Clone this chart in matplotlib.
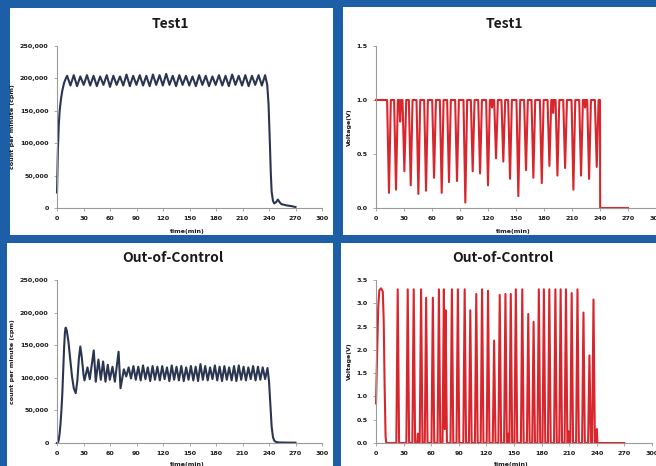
import matplotlib
matplotlib.use("Agg")
import matplotlib.pyplot as plt
from matplotlib.patches import Rectangle
from matplotlib.ticker import FuncFormatter

W, H = 656, 466

# ---- Test1: count per minute ----
t_cpm_test = [0, 1, 2, 3, 4.5, 6, 8, 10, 11.5,
              15.2, 19.0, 22.7, 26.4, 30.2, 33.9, 37.6, 41.4, 45.1, 48.8,
              52.6, 56.3, 60.0, 63.8, 67.5, 71.3, 75.0, 78.7, 82.5, 86.2,
              89.9, 93.7, 97.4, 101.1, 104.9, 108.6, 112.3, 116.1, 119.8, 123.6,
              127.3, 131.0, 134.8, 138.5, 142.2, 146.0, 149.7, 153.4, 157.2, 160.9,
              164.6, 168.4, 172.1, 175.9, 179.6, 183.3, 187.1, 190.8, 194.5, 198.3,
              202.0, 205.7, 209.5, 213.2, 216.9, 220.7, 224.4, 228.2, 231.9, 235.6,
              238.0, 239.5, 241, 242, 243, 244.5, 246, 248, 250, 252, 254, 257,
              260, 265, 270]
cpm_test = [24000, 90000, 128000, 150000, 168000, 181000, 193000, 200000, 204000,
            189000, 205000, 188000, 203000, 190000, 205000, 189000, 204000, 188000, 203000,
            190000, 205000, 187000, 204000, 190000, 203000, 189000, 206000, 188000, 204000,
            190000, 205000, 189000, 204000, 188000, 206000, 190000, 205000, 189000, 207000,
            190000, 204000, 188000, 205000, 190000, 204000, 189000, 203000, 188000, 205000,
            190000, 204000, 188000, 203000, 190000, 205000, 189000, 204000, 188000, 206000,
            190000, 204000, 189000, 205000, 188000, 204000, 190000, 205000, 189000, 205000,
            190000, 160000, 100000, 55000, 25000, 11000, 7000, 9000, 13000, 9000, 6000, 5000,
            4000, 3000, 1500]

# ---- Out-of-Control: count per minute ----
t_cpm_ooc = [0, 1, 2, 3, 4, 5, 6, 7, 8, 9, 9.8, 11, 13, 15, 17, 19, 21.2,
             23, 24.8, 26.4, 28, 30, 31.1, 34.5, 37.1, 41.6, 43.9, 46.9, 49.6,
             52.2, 54.9, 57.5, 59.8, 62.8, 65.5, 69.7, 71.9,
             75.7, 78.4, 81.1, 83.8, 86.5, 89.2, 92.0, 94.7, 97.4, 100.1,
             102.8, 105.5, 108.2, 110.9, 113.6, 116.4, 119.1, 121.8, 124.5, 127.2,
             129.9, 132.6, 135.3, 138.0, 140.7, 143.5, 146.2, 148.9, 151.6, 154.3,
             157.0, 159.7, 162.4, 165.1, 167.8, 170.6, 173.3, 176.0, 178.7, 181.4,
             184.1, 186.8, 189.5, 192.2, 194.9, 197.7, 200.4, 203.1, 205.8, 208.5,
             211.2, 213.9, 216.6, 219.3, 222.0, 224.8, 227.5, 230.2, 232.9, 235.6,
             238.3, 240, 241.5, 243, 244.5, 246, 248, 252, 260, 270]
cpm_ooc = [0, 0, 5000, 15000, 30000, 50000, 75000, 110000, 145000, 170000, 177000,
           173000, 155000, 128000, 102000, 84000, 76500,
           95000, 130000, 148000, 132000, 105000, 96000, 116000, 98000, 142000, 94000,
           128000, 97000, 125000, 94000, 120000, 97000, 117000, 94000, 140000, 84000,
           113000, 102000, 116000, 99000, 118000, 97000, 117000, 96000, 119000, 98000,
           116000, 95000, 118000, 97000, 117000, 96000, 118000, 98000, 116000, 95000,
           119000, 97000, 117000, 96000, 118000, 95000, 116000, 97000, 118000, 96000,
           117000, 95000, 121000, 97000, 118000, 96000, 116000, 98000, 119000, 96000,
           117000, 95000, 118000, 97000, 116000, 96000, 118000, 95000, 119000, 97000,
           117000, 96000, 116000, 98000, 118000, 96000, 117000, 97000, 116000, 98000,
           115000, 95000, 60000, 25000, 9000, 3500, 1500, 800, 600, 500]

# ---- Test1: voltage ----
t_volt_test = [0, 11.9, 13.9, 15.9, 19.4, 21.4, 23.4, 24.9, 25.9, 26.9,
               28.4, 30.4, 32.4, 35.2, 37.2, 39.2, 43.4, 45.4, 47.4,
               51.6, 53.6, 55.6, 60.2, 62.2, 64.2, 68.4, 70.4, 72.4,
               76.2, 78.2, 80.2, 84.8, 86.8, 88.8, 93.7, 95.7, 97.7,
               101.6, 103.6, 105.6, 109.5, 111.5, 113.5, 118.0, 120.0, 122.0,
               123.6, 124.3, 125.0, 126.6, 128.6, 130.6, 134.4, 136.4, 138.4,
               141.6, 143.6, 145.6, 150.5, 152.5, 154.5, 158.7, 160.7, 162.7,
               166.6, 168.6, 170.6, 175.6, 177.6, 179.6, 183.8, 185.8, 187.8,
               189.1, 189.8, 190.5, 192.4, 194.4, 196.4, 200.6, 202.6, 204.6,
               209.5, 211.5, 213.5, 217.7, 219.7, 221.7, 223.3, 224.0, 224.7,
               226.3, 228.3, 230.3, 234.5, 236.5, 238.5, 240.0, 240.2, 270]
volt_test = [1.0, 1.0, 0.14, 1.0, 1.0, 0.17, 1.0, 1.0, 0.80, 1.0,
             1.0, 0.34, 1.0, 1.0, 0.21, 1.0, 1.0, 0.13, 1.0,
             1.0, 0.16, 1.0, 1.0, 0.28, 1.0, 1.0, 0.14, 1.0,
             1.0, 0.24, 1.0, 1.0, 0.25, 1.0, 1.0, 0.05, 1.0,
             1.0, 0.34, 1.0, 1.0, 0.32, 1.0, 1.0, 0.21, 1.0,
             1.0, 0.93, 1.0, 1.0, 0.46, 1.0, 1.0, 0.43, 1.0,
             1.0, 0.27, 1.0, 1.0, 0.11, 1.0, 1.0, 0.35, 1.0,
             1.0, 0.28, 1.0, 1.0, 0.23, 1.0, 1.0, 0.39, 1.0,
             1.0, 0.88, 1.0, 1.0, 0.30, 1.0, 1.0, 0.37, 1.0,
             1.0, 0.17, 1.0, 1.0, 0.30, 1.0, 1.0, 0.93, 1.0,
             1.0, 0.27, 1.0, 1.0, 0.38, 1.0, 1.0, 0.0, 0.0]

# ---- Out-of-Control: voltage ----
t_volt_ooc = [0, 1.2, 2.4, 3.6, 5.5, 7.4, 8.4, 9.4, 10.4, 11.2,
              22.1, 23.6, 25.1, 33.0, 34.5, 36.0, 39.5, 41.0, 42.5,
              44.8, 45.5, 46.2, 47.5, 49.0, 50.5, 53.0, 54.5, 56.0,
              60.3, 61.8, 63.3, 66.9, 68.4, 69.9, 72.3, 73.8, 74.7, 75.6, 77.1,
              81.0, 82.5, 84.0, 87.5, 89.0, 90.5, 94.9, 96.4, 97.9,
              101.0, 102.5, 104.0, 107.5, 109.0, 110.5, 113.8, 115.3, 116.8,
              120.3, 121.8, 123.3, 126.9, 128.4, 129.9, 133.0, 134.5, 136.0,
              139.2, 140.7, 142.2, 143.1, 143.8, 144.5, 145.0, 146.5, 148.0,
              150.5, 152.0, 153.5, 157.5, 159.0, 160.5, 164.0, 165.5, 167.0,
              169.8, 171.3, 172.8, 175.5, 177.0, 178.5, 181.0, 182.5, 184.0,
              186.9, 188.4, 189.9, 193.5, 195.0, 196.5, 199.2, 200.7, 202.2,
              205.0, 206.5, 208.0, 208.6, 209.3, 210.0, 211.2, 212.7, 214.2,
              217.5, 219.0, 220.5, 224.0, 225.5, 227.0, 230.5, 232.0, 233.5,
              234.9, 236.4, 237.9, 239.3, 240.0, 240.7, 270]
volt_ooc = [0.85, 1.9, 2.9, 3.28, 3.32, 3.25, 2.6, 1.2, 0.15, 0.0,
            0.0, 3.30, 0.0, 0.0, 3.30, 0.0, 0.0, 3.30, 0.0,
            0.0, 0.20, 0.0, 0.0, 3.30, 0.0, 0.0, 3.12, 0.0,
            0.0, 3.12, 0.0, 0.0, 3.30, 0.0, 0.0, 3.30, 0.30, 2.85, 0.0,
            0.0, 3.30, 0.0, 0.0, 3.30, 0.0, 0.0, 3.30, 0.0,
            0.0, 2.85, 0.0, 0.0, 3.20, 0.0, 0.0, 3.30, 0.0,
            0.0, 3.27, 0.0, 0.0, 2.20, 0.0, 0.0, 3.18, 0.0,
            0.0, 3.20, 0.0, 0.0, 0.20, 0.0, 0.0, 3.20, 0.0,
            0.0, 3.30, 0.0, 0.0, 3.30, 0.0, 0.0, 2.77, 0.0,
            0.0, 2.60, 0.0, 0.0, 3.30, 0.0, 0.0, 3.30, 0.0,
            0.0, 3.30, 0.0, 0.0, 3.30, 0.0, 0.0, 3.30, 0.0,
            0.0, 3.30, 0.0, 0.0, 0.25, 0.0, 0.0, 3.22, 0.0,
            0.0, 3.30, 0.0, 0.0, 2.80, 0.0, 0.0, 1.88, 0.0,
            0.0, 3.08, 0.0, 0.0, 0.30, 0.0, 0.0]

x_ticks = [0, 30, 60, 90, 120, 150, 180, 210, 240, 270, 300]
cpm_ticks = [0, 50000, 100000, 150000, 200000, 250000]
volt_ticks_test = [0.0, 0.5, 1.0, 1.5]
volt_ticks_ooc = [0.0, 0.5, 1.0, 1.5, 2.0, 2.5, 3.0, 3.5]

BG_BLUE = "#1d5fa6"
NAVY = "#2a3552"
RED = "#d9262d"
SPINE = "#9a9a9a"
SMALL = dict(family="DejaVu Sans", weight="bold", color="#1a1a1a")

fig = plt.figure(figsize=(W / 100, H / 100), dpi=100, facecolor=BG_BLUE)


def frac_box(x0, y0, x1, y1):
    return [x0 / W, 1 - y1 / H, (x1 - x0) / W, (y1 - y0) / H]


# white slide panels, kept behind the axes
for (x0, y0, x1, y1) in [(10, 8, 333, 235), (343, 7, 656, 235),
                         (7, 243, 333, 466), (341, 243, 656, 466)]:
    b = frac_box(x0, y0, x1, y1)
    fig.patches.append(Rectangle((b[0], b[1]), b[2], b[3], transform=fig.transFigure,
                                 facecolor="white", edgecolor="none", zorder=-5))


def style_axes(ax, yticks, ylim, yfmt, ylabel, ylab_x, xlab_y):
    ax.set_zorder(2)
    ax.set_facecolor("white")
    ax.set_xlim(0, 300)
    ax.set_ylim(*ylim)
    ax.set_xticks(x_ticks)
    ax.set_yticks(yticks)
    ax.yaxis.set_major_formatter(FuncFormatter(yfmt))
    for s in ("top", "right"):
        ax.spines[s].set_visible(False)
    for s in ("left", "bottom"):
        ax.spines[s].set_color(SPINE)
        ax.spines[s].set_linewidth(0.8)
    ax.tick_params(direction="out", length=2, width=0.6, color=SPINE, pad=4)
    for lab in ax.get_xticklabels() + ax.get_yticklabels():
        lab.set_fontsize(4.6)
        lab.set_fontfamily("DejaVu Sans")
        lab.set_fontweight("bold")
        lab.set_color("#1a1a1a")
    ax.set_ylabel(ylabel, fontsize=4.6, **SMALL)
    ax.yaxis.set_label_coords(ylab_x, 0.5)
    ax.set_xlabel("time(min)", fontsize=4.5, **SMALL)
    ax.xaxis.set_label_coords(0.49, xlab_y)


cpm_fmt = lambda v, p: f"{int(v):,}"
volt_fmt = lambda v, p: f"{v:.1f}"

ax1 = fig.add_axes(frac_box(57, 46, 322, 208))
ax1.plot(t_cpm_test, cpm_test, color=NAVY, lw=1.5, solid_joinstyle="round")
style_axes(ax1, cpm_ticks, (0, 250000), cpm_fmt, "count per minute (cpm)", -0.158, -0.13)

ax2 = fig.add_axes(frac_box(376, 46, 656, 208))
ax2.plot(t_volt_test, volt_test, color=RED, lw=1.5, solid_joinstyle="round")
style_axes(ax2, volt_ticks_test, (0, 1.5), volt_fmt, "Voltage(V)", -0.086, -0.13)

ax3 = fig.add_axes(frac_box(57, 280, 322, 443))
ax3.plot(t_cpm_ooc, cpm_ooc, color=NAVY, lw=1.5, solid_joinstyle="round")
style_axes(ax3, cpm_ticks, (0, 250000), cpm_fmt, "count per minute (cpm)", -0.158, -0.115)

ax4 = fig.add_axes(frac_box(376, 280, 652, 443))
ax4.plot(t_volt_ooc, volt_ooc, color=RED, lw=1.5, solid_joinstyle="round")
style_axes(ax4, volt_ticks_ooc, (0, 3.5), volt_fmt, "Voltage(V)", -0.086, -0.115)

for ax in (ax1, ax2, ax3, ax4):
    for line in ax.get_lines():
        line.set_clip_on(False)

TITLE = dict(family=["Noto Sans CJK JP", "DejaVu Sans"], weight="bold",
             fontsize=10, color="#1a1a1a", ha="center", va="center")
fig.text(170 / W, 1 - 24 / H, "Test1", **TITLE)
fig.text(504 / W, 1 - 24 / H, "Test1", **TITLE)
fig.text(173 / W, 1 - 258 / H, "Out-of-Control", **TITLE)
fig.text(503 / W, 1 - 258 / H, "Out-of-Control", **TITLE)

fig.savefig("out.png", dpi=100, facecolor=BG_BLUE)
